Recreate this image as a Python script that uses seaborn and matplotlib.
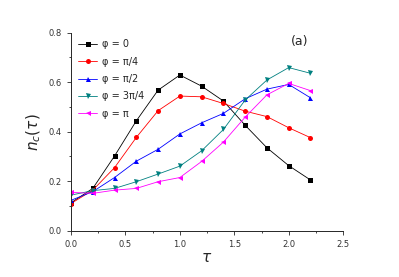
import pandas as pd
import seaborn as sns
import matplotlib.pyplot as plt
from matplotlib.ticker import MultipleLocator

# values
tau = [0.0, 0.2, 0.4, 0.6, 0.8, 1.0, 1.2, 1.4, 1.6, 1.8, 2.0, 2.2]
phi_0 = [0.113, 0.171, 0.302, 0.444, 0.568, 0.629, 0.584, 0.524, 0.426, 0.335, 0.263, 0.205]
phi_pi4 = [0.110, 0.164, 0.255, 0.377, 0.485, 0.544, 0.541, 0.514, 0.483, 0.461, 0.416, 0.376]
phi_pi2 = [0.123, 0.158, 0.215, 0.281, 0.329, 0.391, 0.436, 0.474, 0.533, 0.572, 0.591, 0.537]
phi_3pi4 = [0.144, 0.162, 0.171, 0.198, 0.229, 0.261, 0.323, 0.409, 0.528, 0.609, 0.659, 0.636]
phi_pi = [0.155, 0.151, 0.164, 0.171, 0.198, 0.215, 0.280, 0.358, 0.459, 0.549, 0.595, 0.566]

labels = ["φ = 0", "φ = π/4", "φ = π/2", "φ = 3π/4", "φ = π"]
colors = ["black", "red", "blue", "#008080", "magenta"]
markers = ["s", "o", "^", "v", "<"]

series = [phi_0, phi_pi4, phi_pi2, phi_3pi4, phi_pi]
df = pd.concat(
    [pd.DataFrame({"tau": tau, "n": vals, "phi": lab}) for lab, vals in zip(labels, series)],
    ignore_index=True,
)

sns.set_style("ticks")
fig = plt.figure(figsize=(3.99, 2.77), dpi=100)
ax = fig.add_axes([0.178, 0.167, 0.682, 0.715])

sns.lineplot(
    data=df, x="tau", y="n", hue="phi", style="phi",
    palette=dict(zip(labels, colors)), markers=dict(zip(labels, markers)),
    dashes=False, hue_order=labels, style_order=labels,
    linewidth=0.6, markersize=3.6, markeredgewidth=0, ax=ax,
)

ax.set_xlim(0, 2.5)
ax.set_ylim(0, 0.8)
ax.xaxis.set_major_locator(MultipleLocator(0.5))
ax.xaxis.set_minor_locator(MultipleLocator(0.25))
ax.yaxis.set_major_locator(MultipleLocator(0.2))
ax.yaxis.set_minor_locator(MultipleLocator(0.1))
ax.tick_params(which="major", length=3, width=0.6, labelsize=6, labelcolor="#333333")
ax.tick_params(which="minor", length=1.5, width=0.6)
for s in ["left", "bottom"]:
    ax.spines[s].set_linewidth(0.7)
sns.despine(ax=ax)

ax.set_xlabel(r"$\tau$", fontsize=11, labelpad=1)
ax.set_ylabel(r"$n_c(\tau)$", fontsize=11, labelpad=4)
ax.text(2.1, 0.765, "(a)", fontsize=9, ha="center", va="center")

leg = ax.legend(loc="upper left", frameon=False, fontsize=7, handlelength=2.0,
                labelspacing=0.75, borderaxespad=0.3, handletextpad=0.5)

plt.savefig("out.png", dpi=100)
